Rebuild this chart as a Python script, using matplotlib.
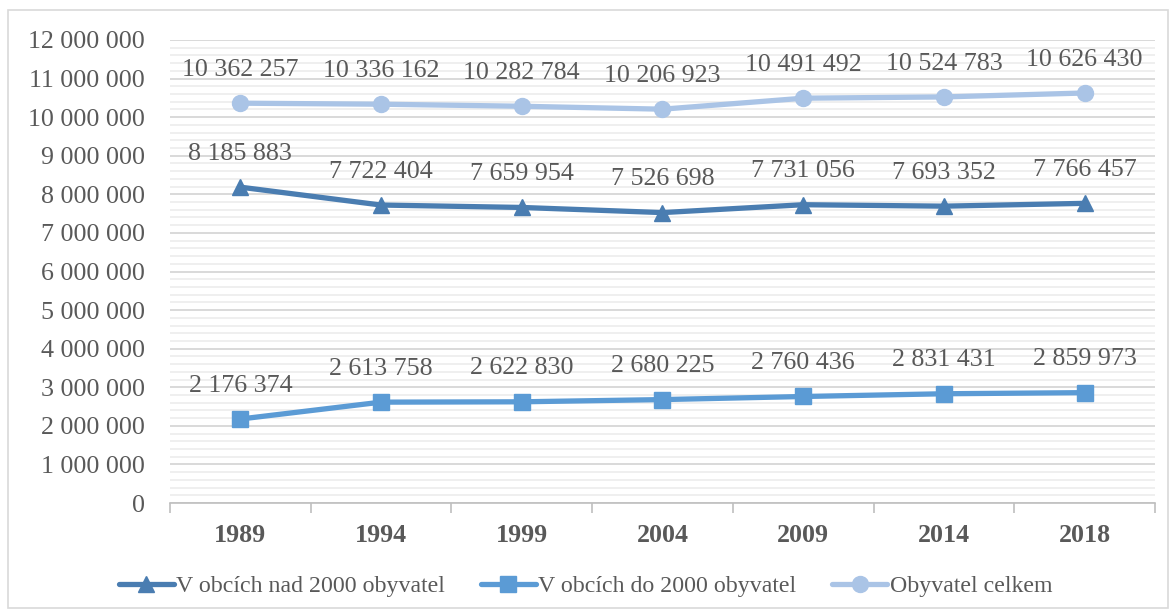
import numpy as np
import matplotlib.pyplot as plt
from matplotlib.ticker import MultipleLocator, FuncFormatter
from matplotlib.patches import Rectangle

# ---------- Data ----------
years = ['1989', '1994', '1999', '2004', '2009', '2014', '2018']
nad_2000 = [8185883, 7722404, 7659954, 7526698, 7731056, 7693352, 7766457]
do_2000 = [2176374, 2613758, 2622830, 2680225, 2760436, 2831431, 2859973]
celkem = [10362257, 10336162, 10282784, 10206923, 10491492, 10524783, 10626430]

series_names = ['V obcích nad 2000 obyvatel', 'V obcích do 2000 obyvatel', 'Obyvatel celkem']

# ---------- Style ----------
TXT = '#595959'
COLORS = ['#4A7DB1', '#5B9BD5', '#AAC4E6']
MARKERS = ['^', 's', 'o']
plt.rcParams['font.family'] = ['Liberation Serif', 'DejaVu Serif']


def fmt_space(v, pos=None):
    return f"{int(round(v)):,}".replace(',', ' ')


fig = plt.figure(figsize=(11.71, 6.14), dpi=100)
ax = fig.add_axes([170 / 1171, 1 - 503 / 614, 985 / 1171, 463 / 614])

# outer border like the Excel chart area
fig.patches.append(Rectangle((8 / 1171, 6 / 614), 1160 / 1171, 598 / 614,
                             transform=fig.transFigure, fill=False,
                             edgecolor='#D9D9D9', lw=1.2))

x = np.arange(len(years))
for vals, name, col, mk in zip([nad_2000, do_2000, celkem], series_names, COLORS, MARKERS):
    ax.plot(x, vals, color=col, lw=3.8, marker=mk, markersize=11.5,
            solid_capstyle='round', label=name, zorder=3)
    for xi, v in zip(x, vals):
        ax.annotate(fmt_space(v), (xi, v), xytext=(0, 24), textcoords='offset points',
                    ha='center', va='center', fontsize=18.7, color=TXT, zorder=4)

ax.set_ylim(0, 12000000)
ax.set_xlim(-0.5, len(years) - 0.5)
ax.yaxis.set_major_locator(MultipleLocator(1000000))
ax.yaxis.set_minor_locator(MultipleLocator(200000))
ax.yaxis.set_major_formatter(FuncFormatter(fmt_space))
ax.grid(axis='y', which='major', color='#D9D9D9', lw=1.4, zorder=0)
ax.grid(axis='y', which='minor', color='#EFEFEF', lw=1.4, zorder=0)
ax.set_axisbelow(True)

ax.set_xticks(x)
ax.set_xticklabels(years, fontweight='bold')
ax.set_xticks(np.arange(-0.5, len(years)), minor=True)
ax.tick_params(axis='x', which='major', length=0, pad=15, labelsize=18.7, labelcolor=TXT)
ax.tick_params(axis='x', which='minor', length=7, width=1.2, color='#BFBFBF')
ax.tick_params(axis='y', which='both', length=0, pad=18, labelsize=18.7, labelcolor=TXT)

for s in ['top', 'right', 'left']:
    ax.spines[s].set_visible(False)
ax.spines['bottom'].set_color('#BFBFBF')
ax.spines['bottom'].set_linewidth(1.2)

fig.legend(loc='center', bbox_to_anchor=(0.5, 1 - 586 / 614), ncol=3, frameon=False,
           fontsize=17.2, labelcolor=TXT, handlelength=2.3, handletextpad=0.1,
           columnspacing=1.5)

fig.savefig('out.png', dpi=100)
